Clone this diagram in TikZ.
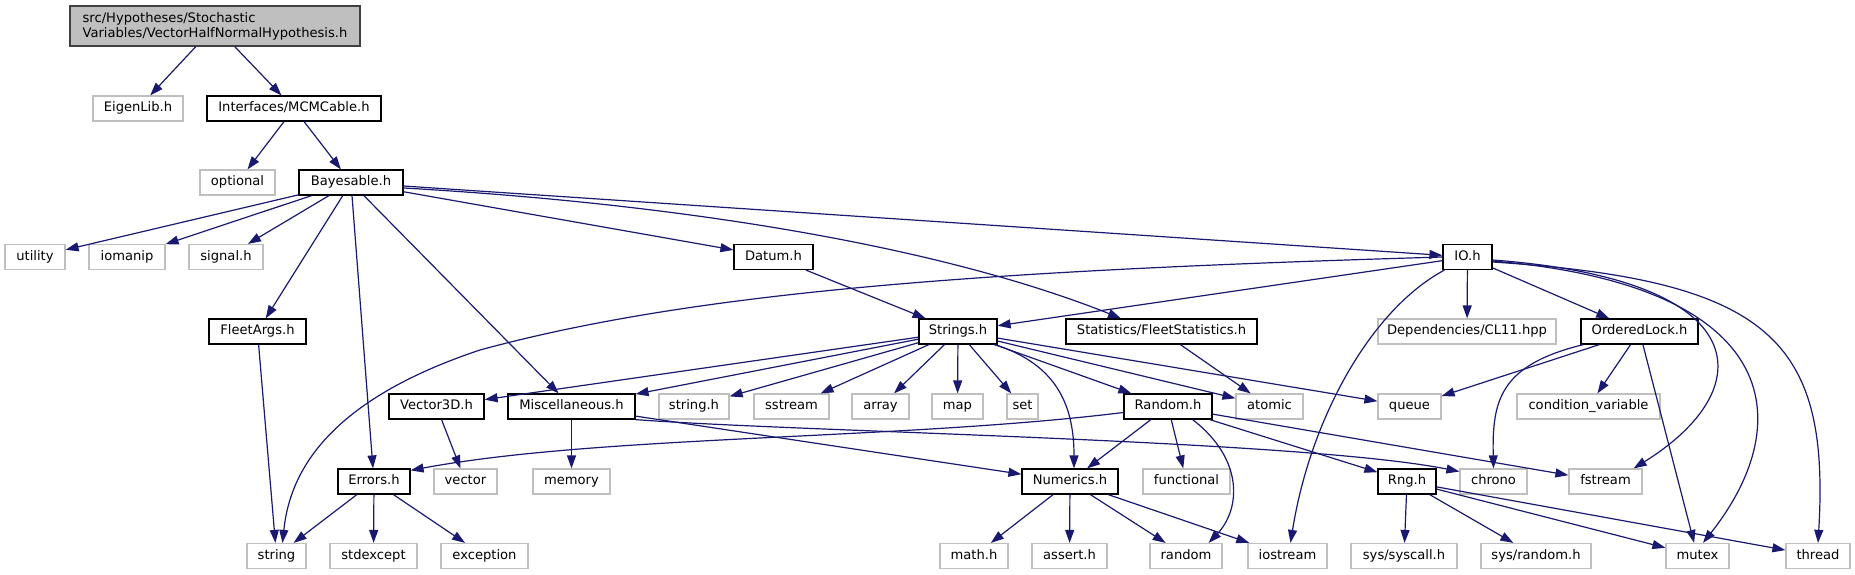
\documentclass[tikz,border=0pt]{standalone}
\usepackage{fontspec}
\setmainfont{DejaVu Sans}
\usetikzlibrary{arrows.meta}
\definecolor{edgeblue}{HTML}{191970}
\definecolor{extgray}{HTML}{BFBFBF}
\definecolor{rootfill}{HTML}{BFBFBF}
\definecolor{rootdraw}{HTML}{404040}
\begin{document}
\begin{tikzpicture}[x=1pt,y=-1pt,
  box/.style={draw=black, fill=white, line width=1.2pt, minimum height=25pt, inner sep=0pt,
              text height=9.6pt, text depth=3.2pt, font=\fontsize{13.1}{15}\selectfont},
  doc/.style={box},
  ext/.style={box, draw=extgray},
  rootbox/.style={draw=rootdraw, fill=rootfill, line width=1.2pt, minimum width=290pt, minimum height=40pt,
              inner sep=0pt, align=left, font=\fontsize{13.1}{15}\selectfont},
  edge/.style={draw=edgeblue, line width=1.2pt, -{Triangle[length=13pt,width=9pt]}},
]
\useasboundingbox (0,0) rectangle (1855,575);

% row 0
\node[rootbox] (root) at (215,26) {src/Hypotheses/Stochastic\\Variables/VectorHalfNormalHypothesis.h};
% row 1
\node[ext, minimum width=90pt] (eigen) at (138,108.5) {EigenLib.h};
\node[doc, minimum width=174pt] (mcm) at (294,108.5) {Interfaces/MCMCable.h};
% row 2
\node[ext, minimum width=75pt] (optional) at (237.5,182.5) {optional};
\node[doc, minimum width=104pt] (bayes) at (351,182.5) {Bayesable.h};
% row 3
\node[ext, minimum width=60pt] (utility) at (35,257) {utility};
\node[ext, minimum width=76pt] (iomanip) at (127,257) {iomanip};
\node[ext, minimum width=74pt] (signal) at (226,257) {signal.h};
\node[doc, minimum width=79pt] (datum) at (773.5,257) {Datum.h};
\node[doc, minimum width=49pt] (io) at (1467.5,257) {IO.h};
% row 4
\node[doc, minimum width=97pt] (fleetargs) at (257.5,331.5) {FleetArgs.h};
\node[doc, minimum width=78pt] (strings) at (958,331.5) {Strings.h};
\node[doc, minimum width=191pt] (fleetstats) at (1161.5,331.5) {Statistics/FleetStatistics.h};
\node[ext, minimum width=178pt] (cl11) at (1467,331.5) {Dependencies/CL11.hpp};
\node[doc, minimum width=117pt] (orderedlock) at (1639.5,331.5) {OrderedLock.h};
% row 5
\node[doc, minimum width=95pt] (vector3d) at (436.5,406.5) {Vector3D.h};
\node[doc, minimum width=127pt] (misc) at (571.5,406.5) {Miscellaneous.h};
\node[ext, minimum width=70pt] (stringh) at (694,406.5) {string.h};
\node[ext, minimum width=75pt] (sstream) at (791.5,406.5) {sstream};
\node[ext, minimum width=57pt] (array) at (880.5,406.5) {array};
\node[ext, minimum width=51pt] (map) at (957.5,406.5) {map};
\node[ext, minimum width=31pt] (set) at (1022.5,406.5) {set};
\node[doc, minimum width=88pt] (randomh) at (1168,406.5) {Random.h};
\node[ext, minimum width=67pt] (atomic) at (1269.5,406.5) {atomic};
\node[ext, minimum width=63pt] (queue) at (1409.5,406.5) {queue};
\node[ext, minimum width=143pt] (condvar) at (1588.5,406.5) {condition\_variable};
% row 6
\node[doc, minimum width=72pt] (errors) at (374,481.5) {Errors.h};
\node[ext, minimum width=63pt] (vector) at (465.5,481.5) {vector};
\node[ext, minimum width=77pt] (memory) at (571.5,481.5) {memory};
\node[doc, minimum width=96pt] (numerics) at (1070,481.5) {Numerics.h};
\node[ext, minimum width=87pt] (functional) at (1186.5,481.5) {functional};
\node[doc, minimum width=58pt] (rng) at (1407,481.5) {Rng.h};
\node[ext, minimum width=67pt] (chrono) at (1493.5,481.5) {chrono};
\node[ext, minimum width=73pt] (fstream) at (1605.5,481.5) {fstream};
% row 7
\node[ext, minimum width=59pt] (string) at (276.5,556) {string};
\node[ext, minimum width=87pt] (stdexcept) at (373.5,556) {stdexcept};
\node[ext, minimum width=87pt] (exception) at (484.5,556) {exception};
\node[ext, minimum width=68pt] (math) at (974,556) {math.h};
\node[ext, minimum width=75pt] (assert) at (1069.5,556) {assert.h};
\node[ext, minimum width=72pt] (random) at (1186,556) {random};
\node[ext, minimum width=79pt] (iostream) at (1287.5,556) {iostream};
\node[ext, minimum width=106pt] (syscall) at (1404,556) {sys/syscall.h};
\node[ext, minimum width=110pt] (sysrandom) at (1536,556) {sys/random.h};
\node[ext, minimum width=63pt] (mutex) at (1697.5,556) {mutex};
\node[ext, minimum width=64pt] (thread) at (1818,556) {thread};

% straight edges
\draw[edge] (root) -- (eigen);
\draw[edge] (root) -- (mcm);
\draw[edge] (mcm) -- (optional);
\draw[edge] (mcm) -- (bayes);
\foreach \t in {utility,iomanip,signal,fleetargs,errors,misc,datum,io}
  \draw[edge] (bayes) -- (\t);
\draw[edge] (fleetargs) -- (string);
\draw[edge] (datum) -- (strings);
\draw[edge] (io) -- (strings);
\draw[edge] (io) -- (cl11);
\draw[edge] (io) -- (orderedlock);
\draw[edge] (fleetstats) -- (atomic);
\foreach \t in {queue,condvar,mutex}
  \draw[edge] (orderedlock) -- (\t);
\foreach \t in {vector3d,misc,stringh,sstream,array,map,set,randomh,atomic,queue}
  \draw[edge] (strings) -- (\t);
\draw[edge] (vector3d) -- (vector);
\draw[edge] (misc) -- (memory);
\draw[edge] (misc) -- (numerics);
\foreach \t in {numerics,functional,rng,fstream}
  \draw[edge] (randomh) -- (\t);
\foreach \t in {string,stdexcept,exception}
  \draw[edge] (errors) -- (\t);
\foreach \t in {math,assert,random,iostream}
  \draw[edge] (numerics) -- (\t);
\foreach \t in {syscall,sysrandom,mutex,thread}
  \draw[edge] (rng) -- (\t);

% curved edges
\draw[edge] ([yshift=-5.5pt]bayes.east) .. controls (700,205) and (950,250) .. ([xshift=-40.5pt]fleetstats.north);
\draw[edge] (io.west) .. controls (1000,270) and (700,290) .. (480,350) .. controls (330,400) and (290,470) .. ([xshift=6pt]string.north);
\draw[edge] ([xshift=2pt]io.south west) .. controls (1370,310) and (1310,420) .. ([xshift=3pt]iostream.north);
\draw[edge] ([yshift=-3pt]io.east) .. controls (1760,280) and (1760,390) .. ([xshift=-9pt]fstream.north east);
\draw[edge] ([yshift=-4pt]io.east) .. controls (1780,285) and (1800,420) .. ([xshift=5.5pt]mutex.north);
\draw[edge] ([yshift=-5pt]io.east) .. controls (1770,280) and (1830,340) .. (thread.north);
\draw[edge] ([xshift=3pt]orderedlock.south west) .. controls (1500,365) and (1492,400) .. (chrono.north);
\draw[edge] ([xshift=-3pt]strings.south east) .. controls (1060,365) and (1074,410) .. ([xshift=4pt]numerics.north);
\draw[edge] ([xshift=-20pt]randomh.south east) .. controls (1245,460) and (1240,510) .. ([xshift=-14pt]random.north east);
\draw[edge] ([yshift=-6pt]randomh.west) .. controls (900,440) and (600,435) .. ([yshift=-2pt]errors.north east);
\draw[edge] (misc.south east) .. controls (800,432) and (1300,440) .. ([yshift=10pt]chrono.west);
\end{tikzpicture}
\end{document}
